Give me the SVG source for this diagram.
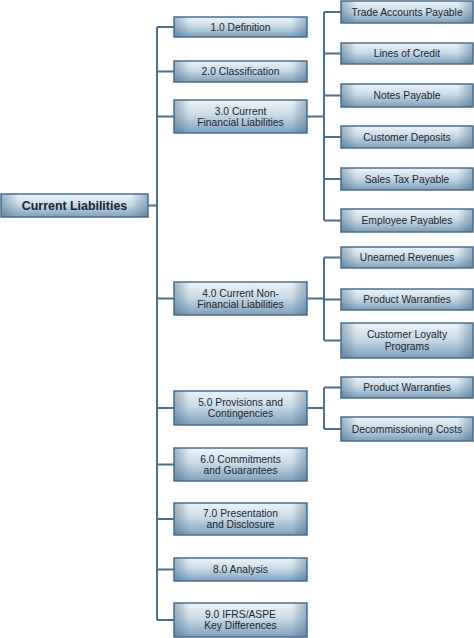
<svg xmlns="http://www.w3.org/2000/svg" width="474" height="638" viewBox="0 0 474 638">
<defs>
<linearGradient id="gv" x1="0" y1="0" x2="0" y2="1">
<stop offset="0" stop-color="#eef4f8"/>
<stop offset="0.45" stop-color="#c9dbe8"/>
<stop offset="1" stop-color="#7d9fba"/>
</linearGradient>
<linearGradient id="gh" x1="0" y1="0" x2="1" y2="0">
<stop offset="0" stop-color="#3d6485" stop-opacity="0.45"/>
<stop offset="0.12" stop-color="#3d6485" stop-opacity="0"/>
<stop offset="0.88" stop-color="#3d6485" stop-opacity="0"/>
<stop offset="1" stop-color="#3d6485" stop-opacity="0.45"/>
</linearGradient>
<style>
.b{fill:url(#gv);stroke:#4b6f8d;stroke-width:1.5}
.o{fill:url(#gh);stroke:none}
.t{font-family:"Liberation Sans",Arial,sans-serif;font-size:10.3px;fill:#1c2630;text-anchor:middle;dominant-baseline:central}
.r{font-size:12.4px;font-weight:bold}
.c{fill:none;stroke:#4b6f8d;stroke-width:2}
</style>
</defs>
<rect width="474" height="638" fill="#ffffff"/>
<g id="connectors">
<path class="c" d="M148 205.5H157M157 27V620M157 27H174M157 71.5H174M157 116.5H174M157 298.5H174M157 408H174M157 464.5H174M157 519H174M157 569.5H174M157 620H174"/>
<path class="c" d="M307 116.5H324M324 12V220.5M324 12H341M324 53.5H341M324 95.5H341M324 137H341M324 179H341M324 220.5H341"/>
<path class="c" d="M307 298.5H324M324 257.5V340.5M324 257.5H341M324 299.5H341M324 340.5H341"/>
<path class="c" d="M307 408H324M324 387.5V429M324 387.5H341M324 429H341"/>
</g>
<g id="root"><rect class="b" x="1" y="194" width="147" height="23"/><rect class="o" x="1" y="194" width="147" height="23"/><text class="t r" x="74.5" y="205.5">Current Liabilities</text></g>
<g id="n1"><rect class="b" x="174" y="17" width="133" height="20"/><rect class="o" x="174" y="17" width="133" height="20"/><text class="t" x="240.5" y="27">1.0 Definition</text></g>
<g id="n2"><rect class="b" x="174" y="61" width="133" height="21"/><rect class="o" x="174" y="61" width="133" height="21"/><text class="t" x="240.5" y="71.5">2.0 Classification</text></g>
<g id="n3"><rect class="b" x="174" y="100" width="133" height="33"/><rect class="o" x="174" y="100" width="133" height="33"/><text class="t" x="240.5" y="111">3.0 Current</text><text class="t" x="240.5" y="122">Financial Liabilities</text></g>
<g id="n4"><rect class="b" x="174" y="282" width="133" height="33"/><rect class="o" x="174" y="282" width="133" height="33"/><text class="t" x="240.5" y="293">4.0 Current Non-</text><text class="t" x="240.5" y="304">Financial Liabilities</text></g>
<g id="n5"><rect class="b" x="174" y="391" width="133" height="34"/><rect class="o" x="174" y="391" width="133" height="34"/><text class="t" x="240.5" y="402.5">5.0 Provisions and</text><text class="t" x="240.5" y="413.5">Contingencies</text></g>
<g id="n6"><rect class="b" x="174" y="448" width="133" height="33"/><rect class="o" x="174" y="448" width="133" height="33"/><text class="t" x="240.5" y="459">6.0 Commitments</text><text class="t" x="240.5" y="470">and Guarantees</text></g>
<g id="n7"><rect class="b" x="174" y="503" width="133" height="32"/><rect class="o" x="174" y="503" width="133" height="32"/><text class="t" x="240.5" y="513.5">7.0 Presentation</text><text class="t" x="240.5" y="524.5">and Disclosure</text></g>
<g id="n8"><rect class="b" x="174" y="558" width="133" height="23"/><rect class="o" x="174" y="558" width="133" height="23"/><text class="t" x="240.5" y="569.5">8.0 Analysis</text></g>
<g id="n9"><rect class="b" x="174" y="603" width="133" height="34"/><rect class="o" x="174" y="603" width="133" height="34"/><text class="t" x="240.5" y="614.5">9.0 IFRS/ASPE</text><text class="t" x="240.5" y="625.5">Key Differences</text></g>
<g id="n31"><rect class="b" x="341" y="1" width="132" height="22"/><rect class="o" x="341" y="1" width="132" height="22"/><text class="t" x="407" y="12">Trade Accounts Payable</text></g>
<g id="n32"><rect class="b" x="341" y="43" width="132" height="21"/><rect class="o" x="341" y="43" width="132" height="21"/><text class="t" x="407" y="53.5">Lines of Credit</text></g>
<g id="n33"><rect class="b" x="341" y="84" width="132" height="23"/><rect class="o" x="341" y="84" width="132" height="23"/><text class="t" x="407" y="95.5">Notes Payable</text></g>
<g id="n34"><rect class="b" x="341" y="126" width="132" height="22"/><rect class="o" x="341" y="126" width="132" height="22"/><text class="t" x="407" y="137">Customer Deposits</text></g>
<g id="n35"><rect class="b" x="341" y="168" width="132" height="22"/><rect class="o" x="341" y="168" width="132" height="22"/><text class="t" x="407" y="179">Sales Tax Payable</text></g>
<g id="n36"><rect class="b" x="341" y="209" width="132" height="23"/><rect class="o" x="341" y="209" width="132" height="23"/><text class="t" x="407" y="220.5">Employee Payables</text></g>
<g id="n41"><rect class="b" x="341" y="247" width="132" height="21"/><rect class="o" x="341" y="247" width="132" height="21"/><text class="t" x="407" y="257.5">Unearned Revenues</text></g>
<g id="n42"><rect class="b" x="341" y="289" width="132" height="21"/><rect class="o" x="341" y="289" width="132" height="21"/><text class="t" x="407" y="299.5">Product Warranties</text></g>
<g id="n43"><rect class="b" x="341" y="323" width="132" height="35"/><rect class="o" x="341" y="323" width="132" height="35"/><text class="t" x="407" y="334.5">Customer Loyalty</text><text class="t" x="407" y="346">Programs</text></g>
<g id="n51"><rect class="b" x="341" y="377" width="132" height="21"/><rect class="o" x="341" y="377" width="132" height="21"/><text class="t" x="407" y="387.5">Product Warranties</text></g>
<g id="n52"><rect class="b" x="341" y="417" width="132" height="24"/><rect class="o" x="341" y="417" width="132" height="24"/><text class="t" x="407" y="429">Decommissioning Costs</text></g>
</svg>
